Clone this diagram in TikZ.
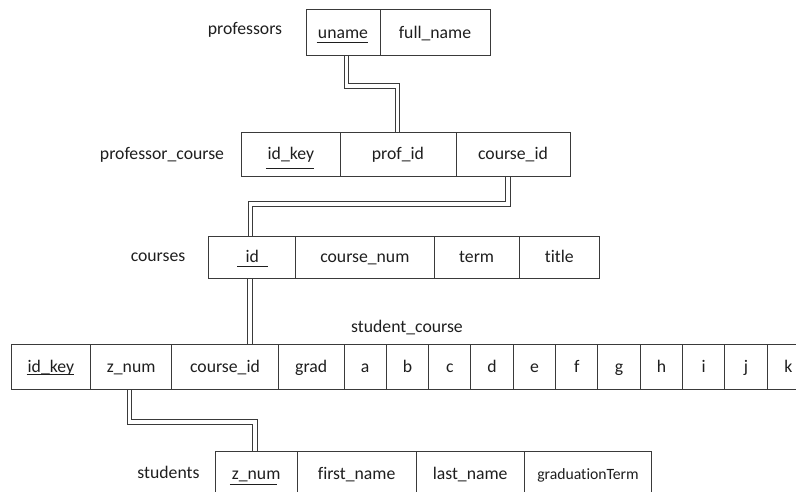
\documentclass[tikz,border=0pt]{standalone}
\usepackage{fontspec}
\setmainfont{Carlito}[Ligatures=NoCommon]
\usetikzlibrary{backgrounds}
\definecolor{ln}{HTML}{3A3A3A}
\definecolor{tx}{HTML}{1E1E1E}
\tikzset{
  bl/.style={text height={8.5pt+#1}, text depth={8.5pt-#1}},
  cell/.style={draw=ln, line width=1pt, inner sep=0pt, text=tx, font=\fontsize{17.7}{20}\selectfont},
  lbl/.style={inner sep=0pt, text=tx, font=\fontsize{17.7}{20}\selectfont},
  link/.style={draw=ln, line width=1pt, double=white, double distance=3.8pt},
  uline/.style={draw=tx, line width=1pt}
}
\begin{document}
\begin{tikzpicture}[x=1pt,y=-1pt]
\useasboundingbox (0,0) rectangle (796,491);
\clip (0,0) rectangle (796,491);
% professors
\node[lbl, bl=5.8pt] (lprof) at (245,29) {professors};
\begin{scope}[every node/.append style={bl=6.2pt}]
\node[cell, minimum width=74pt, minimum height=45.7pt] (pu) at (343,32.15) {uname};
\node[cell, minimum width=110pt, minimum height=45.7pt] (pfn) at (435,32.15) {full\_name};
\end{scope}
% professor_course
\node[lbl, bl=5.2pt] (lpc) at (162,154) {professor\_course};
\begin{scope}[every node/.append style={bl=4.5pt}]
\node[cell, minimum width=98.3pt, minimum height=44.4pt] (pcik) at (290.85,154.5) {id\_key};
\node[cell, minimum width=116pt, minimum height=44.4pt] (ppid) at (398,154.5) {prof\_id};
\node[cell, minimum width=114pt, minimum height=44.4pt] (pcid) at (513,154.5) {course\_id};
\end{scope}
% courses
\node[lbl, bl=5.8pt] (lc) at (158,256) {courses};
\begin{scope}[every node/.append style={bl=4.8pt}]
\node[cell, minimum width=87pt, minimum height=42.7pt] (cid) at (252.2,257.35) {id};
\node[cell, minimum width=138.3pt, minimum height=42.7pt] (cnum) at (364.85,257.35) {course\_num};
\node[cell, minimum width=85.3pt, minimum height=42.7pt] (cterm) at (476.65,257.35) {term};
\node[cell, minimum width=80pt, minimum height=42.7pt] (ctitle) at (559.3,257.35) {title};
\end{scope}
% student_course
\node[lbl, bl=5.8pt] (lsc) at (407,327) {student\_course};
\begin{scope}[every node/.append style={bl=5.8pt}]
\node[cell, minimum width=79.7pt, minimum height=45.5pt] (sik) at (50.85,366.75) {id\_key};
\node[cell, minimum width=81pt, minimum height=45.5pt] (szn) at (131.2,366.75) {z\_num};
\node[cell, minimum width=106.6pt, minimum height=45.5pt] (scid) at (225,366.75) {course\_id};
\node[cell, minimum width=65.7pt, minimum height=45.5pt] (sgr) at (311.15,366.75) {grad};
\node[cell, minimum width=42.3pt, minimum height=45.5pt] (sa) at (365.15,366.75) {a};
\foreach \l [count=\i from 0] in {b,c,d,e,f,g,h,i,j,k}{
  \node[cell, minimum width=42.33pt, minimum height=45.5pt] (s\l) at ({386.3+42.33*\i+21.165},366.75) {\l};
}
\end{scope}
% students
\node[lbl, bl=5.8pt] (lst) at (168.5,472.5) {students};
\begin{scope}[every node/.append style={bl=5.5pt}]
\node[cell, minimum width=82.3pt, minimum height=45pt] (stz) at (256.15,474.2) {z\_num};
\node[cell, minimum width=118.7pt, minimum height=45pt] (stf) at (356.65,474.2) {first\_name};
\node[cell, minimum width=108.3pt, minimum height=45pt] (stl) at (470.15,474.2) {last\_name};
\node[cell, minimum width=127.4pt, minimum height=45pt, font=\fontsize{15.7}{18}\selectfont] (stg) at (588,474.2) {graduationTerm};
\end{scope}
% underlines of keys
\draw[uline] ([xshift=-26.3pt,yshift=-4.2pt]pu.base) -- ([xshift=25.3pt,yshift=-4.2pt]pu.base);
\draw[uline] ([xshift=-24.9pt,yshift=-9.8pt]pcik.base) -- ([xshift=23.1pt,yshift=-9.8pt]pcik.base);
\draw[uline] ([xshift=-14.9pt,yshift=-4.5pt]cid.base) -- ([xshift=16.1pt,yshift=-4.5pt]cid.base);
\draw[uline] ([xshift=-24.2pt,yshift=-1.5pt]sik.base) -- ([xshift=23.1pt,yshift=-1.5pt]sik.base);
\draw[uline] ([xshift=-26.2pt,yshift=-5pt]stz.base) -- ([xshift=20.5pt,yshift=-5pt]stz.base);
% connectors
\begin{scope}[on background layer]
\draw[link] ([xshift=3.5pt]pu.south) -- ++(0,30.5) -| ([xshift=-0.5pt]ppid.north);
\draw[link] ([xshift=-4.7pt]pcid.south) -- ++(0,26.8) -| ([xshift=-1.7pt]cid.north);
\path ([xshift=-2pt]cid.south) coordinate (c3);
\draw[link] (c3) -- (c3 |- scid.north);
\draw[link] ([xshift=-1.7pt]szn.south) -- ++(0,31.8) -| ([xshift=-1pt]stz.north);
\end{scope}
\end{tikzpicture}
\end{document}
